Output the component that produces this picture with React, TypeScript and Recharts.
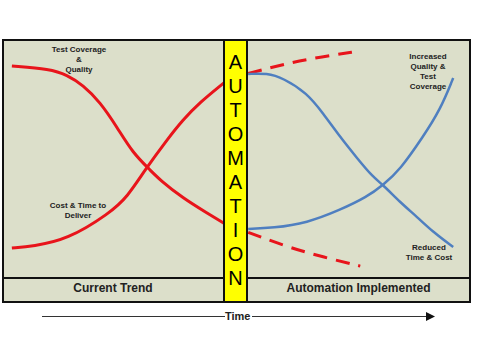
import { ComposedChart, Line, XAxis, YAxis } from 'recharts'

// time runs 0..100 across the box, level 0..100 up the upper section
const testCoverageBefore = [
  { x: 1.9, y: 89.1 }, { x: 10.1, y: 87.8 }, { x: 13.7, y: 85.3 }, { x: 17.1, y: 81.1 },
  { x: 20.8, y: 73.9 }, { x: 24.4, y: 63.4 }, { x: 27.8, y: 52.5 }, { x: 31.5, y: 45.4 },
  { x: 33.6, y: 41.2 }, { x: 38.5, y: 33.6 }, { x: 43.7, y: 27.3 }, { x: 47.3, y: 23.0 },
]
const costBefore = [
  { x: 1.9, y: 12.6 }, { x: 6.4, y: 13.4 }, { x: 13.7, y: 16.0 }, { x: 22.9, y: 27.3 },
  { x: 26.6, y: 34.0 }, { x: 30.4, y: 45.4 }, { x: 35.1, y: 58.0 }, { x: 38.5, y: 66.4 },
  { x: 42.2, y: 73.9 }, { x: 47.3, y: 82.0 },
]
const costTrendContinued = [
  { x: 52.5, y: 85.9 }, { x: 57.8, y: 88.7 }, { x: 65.1, y: 92.0 }, { x: 76.5, y: 95.4 },
]
const coverageTrendContinued = [
  { x: 52.5, y: 19.2 }, { x: 58.7, y: 14.7 }, { x: 65.1, y: 10.5 }, { x: 76.5, y: 5.0 },
]
const costAfter = [
  { x: 52.5, y: 85.7 }, { x: 56.5, y: 86.1 }, { x: 60.0, y: 84.0 }, { x: 65.1, y: 77.7 },
  { x: 68.5, y: 69.3 }, { x: 72.2, y: 59.2 }, { x: 75.8, y: 50.4 }, { x: 79.2, y: 42.4 },
  { x: 81.4, y: 39.1 }, { x: 85.0, y: 31.9 }, { x: 88.7, y: 25.6 }, { x: 92.1, y: 19.3 },
  { x: 96.4, y: 13.0 },
]
const coverageAfter = [
  { x: 52.5, y: 20.6 }, { x: 57.8, y: 21.0 }, { x: 65.1, y: 23.1 }, { x: 72.2, y: 28.6 },
  { x: 77.9, y: 34.0 }, { x: 81.4, y: 39.1 }, { x: 85.0, y: 45.4 }, { x: 89.9, y: 59.2 },
  { x: 93.6, y: 70.6 }, { x: 96.4, y: 84.0 },
]
const bandLetters = ['A', 'U', 'T', 'O', 'M', 'A', 'T', 'I', 'O', 'N']
const phases = ['Current Trend', 'Automation Implemented']

const red = '#e8141b'
const blue = '#4f7fc0'
const font = '"Liberation Sans", Arial, sans-serif'

const small = (left: number, top: number, lines: string[]) => (
  <div style={{ position: 'absolute', left: left - 50, top, width: 100, textAlign: 'center', fontFamily: font, fontWeight: 700, fontSize: 8, lineHeight: '10px', color: '#222' }}>
    {lines.map(l => <div key={l}>{l}</div>)}
  </div>
)

export default function App() {
  return (
    <div style={{ position: 'relative', width: 479, height: 345, background: '#fff' }}>
      <style>{'body{margin:0}'}</style>
      <div style={{ position: 'absolute', left: 3, top: 40, width: 467, height: 262, background: '#dcdfca' }} />
      <ComposedChart width={479} height={345} margin={{ top: 40, right: 9, bottom: 67, left: 3 }} style={{ position: 'absolute', left: 0, top: 0 }}>
        <XAxis type="number" dataKey="x" domain={[0, 100]} hide />
        <YAxis type="number" domain={[0, 100]} hide />
        <Line data={testCoverageBefore} dataKey="y" type="basis" stroke={red} strokeWidth={3} dot={false} activeDot={false} isAnimationActive={false} />
        <Line data={costBefore} dataKey="y" type="basis" stroke={red} strokeWidth={3} dot={false} activeDot={false} isAnimationActive={false} />
        <Line data={costTrendContinued} dataKey="y" type="basis" stroke={red} strokeWidth={3} strokeDasharray="14 9" dot={false} activeDot={false} isAnimationActive={false} />
        <Line data={coverageTrendContinued} dataKey="y" type="basis" stroke={red} strokeWidth={3} strokeDasharray="14 9" dot={false} activeDot={false} isAnimationActive={false} />
        <Line data={costAfter} dataKey="y" type="basis" stroke={blue} strokeWidth={2.5} dot={false} activeDot={false} isAnimationActive={false} />
        <Line data={coverageAfter} dataKey="y" type="basis" stroke={blue} strokeWidth={2.5} dot={false} activeDot={false} isAnimationActive={false} />
      </ComposedChart>
      {/* frame, divider, band */}
      <div style={{ position: 'absolute', left: 2, top: 39, width: 469, height: 264, border: '2px solid #111', boxSizing: 'border-box' }} />
      <div style={{ position: 'absolute', left: 3, top: 277, width: 466, height: 2, background: '#111' }} />
      <div style={{ position: 'absolute', left: 223, top: 39, width: 25, height: 264, background: '#ffff00', border: '2px solid #111', boxSizing: 'border-box' }} />
      {bandLetters.map((c, i) => (
        <div key={i} style={{ position: 'absolute', left: 223, width: 25, top: 51 + i * 24, textAlign: 'center', fontFamily: font, fontSize: 20, lineHeight: '22px', color: '#000' }}>{c}</div>
      ))}
      <div style={{ position: 'absolute', left: 3, top: 281, width: 220, textAlign: 'center', fontFamily: font, fontWeight: 700, fontSize: 12, color: '#222' }}>{phases[0]}</div>
      <div style={{ position: 'absolute', left: 248, top: 281, width: 221, textAlign: 'center', fontFamily: font, fontWeight: 700, fontSize: 12, color: '#222' }}>{phases[1]}</div>
      {small(79, 45, ['Test Coverage', '&', 'Quality'])}
      {small(78, 201, ['Cost & Time to', 'Deliver'])}
      {small(428, 52, ['Increased', 'Quality &', 'Test', 'Coverage'])}
      {small(429, 243, ['Reduced', 'Time & Cost'])}
      {/* time arrow */}
      <div style={{ position: 'absolute', left: 42, top: 316, width: 183, height: 1, background: '#333' }} />
      <div style={{ position: 'absolute', left: 225, top: 310, fontFamily: font, fontWeight: 700, fontSize: 11, color: '#222' }}>Time</div>
      <div style={{ position: 'absolute', left: 252, top: 316, width: 176, height: 1, background: '#333' }} />
      <svg style={{ position: 'absolute', left: 426, top: 312 }} width={10} height={9}>
        <polygon points="0,0 9,4.5 0,9" fill="#111" />
      </svg>
    </div>
  )
}
